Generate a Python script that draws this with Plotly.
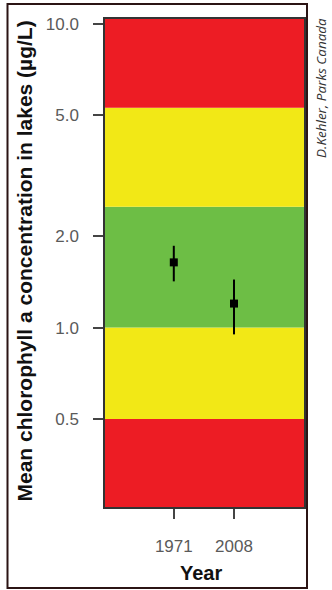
import plotly.graph_objects as go

# Survey years and mean chlorophyll a (µg/L) with interval bounds
years = ["1971", "2008"]
mean_chl = [1.64, 1.20]
lower_chl = [1.42, 0.95]
upper_chl = [1.86, 1.44]

# Condition bands (µg/L): lower edge, upper edge, colour
band_low = [0.01, 0.5, 1.0, 2.5, 5.3]
band_high = [0.5, 1.0, 2.5, 5.3, 100.0]
band_colors = ["#ed1c24", "#f2e816", "#6dbe45", "#f2e816", "#ed1c24"]

# Y axis ticks
y_ticks = [0.5, 1.0, 2.0, 5.0, 10.0]
y_ticktext = ["0.5", "1.0", "2.0", "5.0", "10.0"]

W, H = 332, 590
ML, MR, MT, MB = 105, 28, 19, 83
PW, PH = W - ML - MR, H - MT - MB


def px_x(p):
    return (p - ML) / PW


def px_y(p):
    return (H - MB - p) / PH


xpos = list(range(len(years)))
x_range = [-1.143, 2.163]

fig = go.Figure()

for lo, hi, col in zip(band_low, band_high, band_colors):
    fig.add_trace(go.Scatter(
        x=[-5, 5, 5, -5, -5], y=[lo, lo, hi, hi, lo],
        mode="lines", fill="toself", fillcolor=col,
        line=dict(width=0, color=col), hoverinfo="skip", showlegend=False,
    ))

fig.add_trace(go.Scatter(
    x=xpos, y=mean_chl, mode="markers",
    marker=dict(symbol="square", size=8, color="black"),
    error_y=dict(
        type="data", symmetric=False,
        array=[u - m for u, m in zip(upper_chl, mean_chl)],
        arrayminus=[m - l for m, l in zip(mean_chl, lower_chl)],
        color="black", thickness=2, width=0,
    ),
    showlegend=False,
))

axis_font = dict(family="Liberation Sans, Arial, sans-serif", color="#5a5a5a")

fig.update_layout(
    width=W, height=H,
    margin=dict(l=ML, r=MR, t=MT, b=MB, pad=0),
    paper_bgcolor="white", plot_bgcolor="white",
    xaxis=dict(
        range=x_range, tickvals=xpos, ticktext=years,
        showgrid=False, zeroline=False,
        ticks="outside", ticklen=10, tickwidth=1.5, tickcolor="#444444",
        tickfont=dict(size=17, **axis_font), ticklabelstandoff=13,
        showline=True, linecolor="#333333", linewidth=1.5, mirror=True,
    ),
    yaxis=dict(
        type="log", range=[-0.5909, 1.0165],
        tickvals=y_ticks, ticktext=y_ticktext,
        showgrid=False, zeroline=False,
        ticks="outside", ticklen=10, tickwidth=1.5, tickcolor="#444444",
        tickfont=dict(size=17, **axis_font), ticklabelstandoff=11,
        showline=True, linecolor="#333333", linewidth=1.5, mirror=True,
    ),
    shapes=[dict(
        type="rect", xref="paper", yref="paper",
        x0=px_x(7.5), x1=px_x(307), y0=px_y(588), y1=px_y(4),
        line=dict(color="#2b1414", width=2), fillcolor="rgba(0,0,0,0)",
        layer="above",
    )],
    annotations=[
        dict(
            text="<b>Mean chlorophyll a concentration in lakes (µg/L)</b>",
            xref="paper", yref="paper", x=px_x(24), y=px_y(261.5),
            xanchor="center", yanchor="middle", textangle=-90, showarrow=False,
            font=dict(family="Liberation Sans, Arial, sans-serif", size=21, color="#111111"),
        ),
        dict(
            text="<b>Year</b>",
            xref="paper", yref="paper", x=px_x(201), y=px_y(573),
            xanchor="center", yanchor="middle", showarrow=False,
            font=dict(family="Liberation Sans, Arial, sans-serif", size=20, color="#111111"),
        ),
        dict(
            text="<i>D.Kehler, Parks Canada</i>",
            xref="paper", yref="paper", x=px_x(321), y=px_y(88),
            xanchor="center", yanchor="middle", textangle=-90, showarrow=False,
            font=dict(family="Open Sans, sans-serif", size=13.5, color="#333333"),
        ),
    ],
)

fig.write_html("out.html")
